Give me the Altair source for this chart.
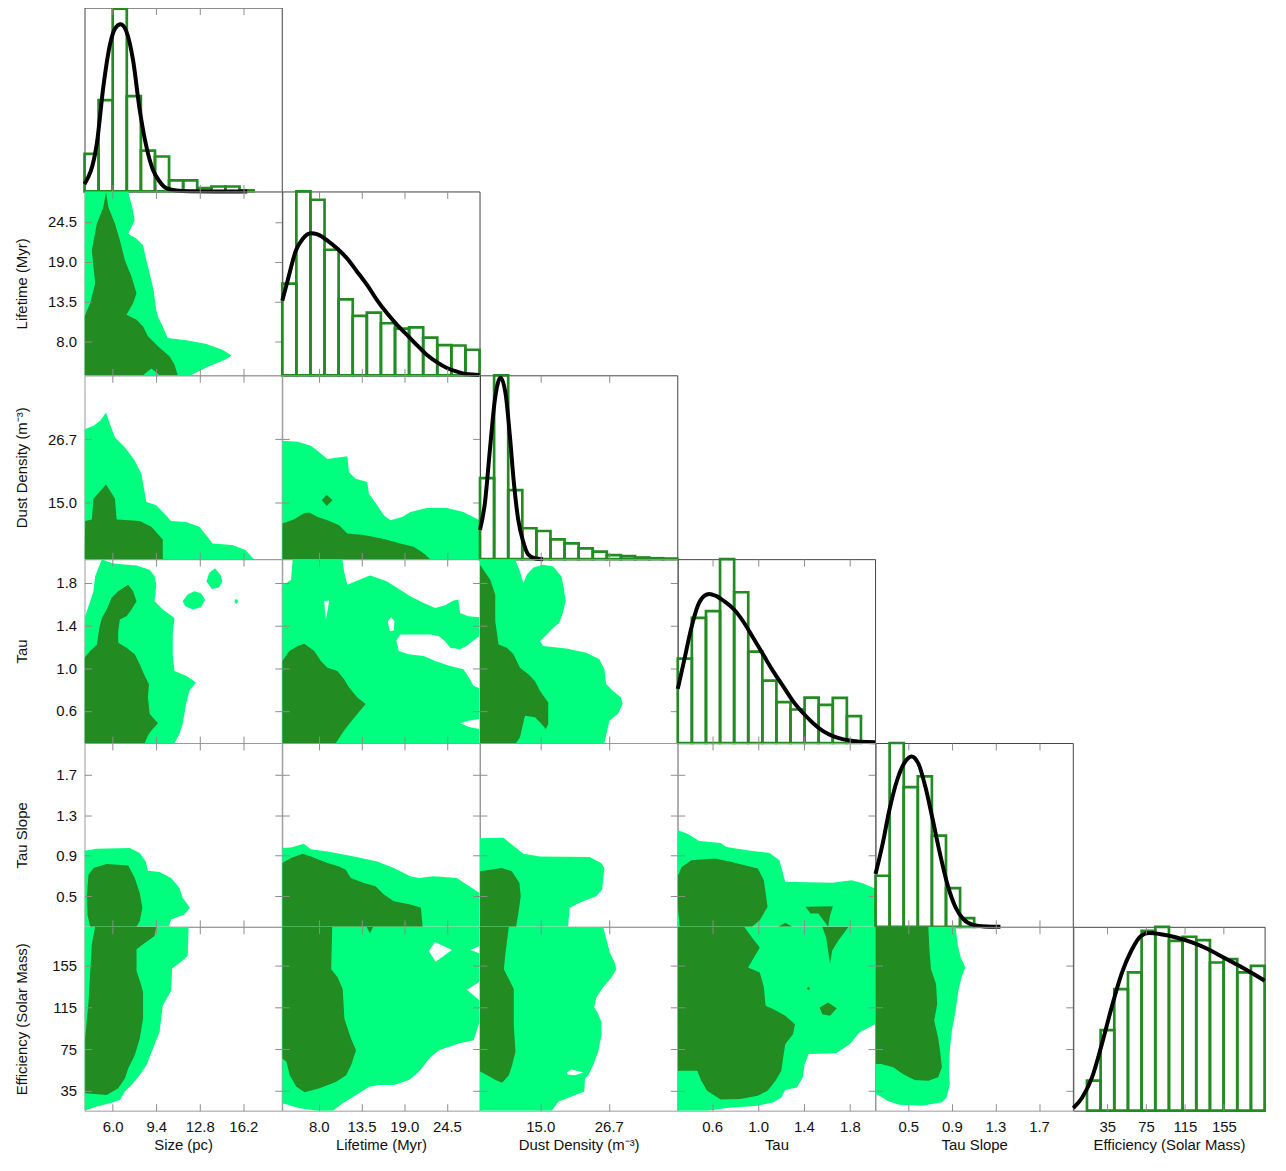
import altair as alt
import pandas as pd

# ---------------- variables / axes ----------------
NAMES = ["Size (pc)", "Lifetime (Myr)", "Dust Density (m⁻³)", "Tau", "Tau Slope",
         "Efficiency (Solar Mass)"]
X_DOMAINS = [[3.8, 19.2], [3.3, 28.7], [4.7, 38.4], [0.3, 2.02], [0.2, 2.01], [0.0, 197.0]]
Y_DOMAINS = [[3.8, 19.2], [3.3, 28.7], [4.7, 38.4], [0.3, 2.02], [0.2, 2.01], [16.0, 192.0]]
TICKS = [[6.0, 9.4, 12.8, 16.2], [8.0, 13.5, 19.0, 24.5], [15.0, 26.7],
         [0.6, 1.0, 1.4, 1.8], [0.5, 0.9, 1.3, 1.7], [35, 75, 115, 155]]
FORMATS = [".1f", ".1f", ".1f", ".1f", ".1f", "d"]

# ---------------- histograms (relative heights, 14 bins across each axis) ----------------
SIZE_HIST = [0.204, 0.497, 0.995, 0.519, 0.222, 0.190, 0.060, 0.060, 0.018, 0.027, 0.027, 0.006, 0, 0]
LIFETIME_HIST = [0.499, 1.0, 0.955, 0.683, 0.413, 0.323, 0.341, 0.283, 0.254, 0.261, 0.205, 0.164, 0.162, 0.139]
DUST_HIST = [0.441, 1.0, 0.375, 0.168, 0.153, 0.108, 0.086, 0.059, 0.041, 0.022, 0.016, 0.009, 0.005, 0.003]
TAU_HIST = [0.459, 0.681, 0.717, 1.0, 0.82, 0.497, 0.339, 0.222, 0.182, 0.247, 0.207, 0.245, 0.146, 0]
SLOPE_HIST = [0.278, 1.0, 0.76, 0.818, 0.496, 0.211, 0.047, 0.004, 0, 0, 0, 0, 0, 0]
EFF_HIST = [0, 0.163, 0.438, 0.661, 0.752, 0.978, 1.0, 0.924, 0.946, 0.928, 0.806, 0.824, 0.752, 0.788]

# ---------------- density curves ----------------
SIZE_KDE_X = [3.8, 4.76, 5.27, 5.79, 6.18, 6.62, 7.08, 7.59, 8.11, 8.63, 9.14, 9.66, 10.18, 10.95, 12.0, 14.0, 16.5]
SIZE_KDE_Y = [0.04, 0.26, 0.57, 0.80, 0.886, 0.909, 0.868, 0.714, 0.443, 0.244, 0.118, 0.054, 0.018, 0.005, 0.001, 0.0, 0.0]
LIFETIME_KDE_X = [3.3, 4.0, 5.07, 5.92, 7.0, 7.84, 9.12, 10.4, 11.68, 12.96, 14.24, 15.5, 16.8, 18.08,
                  19.36, 20.6, 21.9, 23.2, 24.5, 25.8, 27.0, 28.7]
LIFETIME_KDE_Y = [0.405, 0.517, 0.68, 0.742, 0.773, 0.766, 0.733, 0.688, 0.634, 0.562, 0.49, 0.409, 0.337,
                  0.274, 0.22, 0.166, 0.112, 0.072, 0.04, 0.02, 0.007, 0.002]
DUST_KDE_X = [4.7, 5.55, 6.4, 7.25, 8.21, 9.12, 9.8, 10.47, 11.2, 12.07, 12.9, 14.04, 15.46]
DUST_KDE_Y = [0.159, 0.31, 0.6, 0.87, 0.987, 0.887, 0.67, 0.42, 0.22, 0.096, 0.027, 0.005, 0.0]
TAU_KDE_X = [0.3, 0.358, 0.415, 0.473, 0.531, 0.575, 0.632, 0.705, 0.791, 0.878, 0.965, 1.051, 1.138,
             1.225, 1.311, 1.398, 1.485, 1.571, 1.658, 1.745, 1.831, 1.947, 2.02]
TAU_KDE_Y = [0.294, 0.456, 0.618, 0.744, 0.80, 0.811, 0.80, 0.771, 0.726, 0.654, 0.564, 0.474, 0.384,
             0.303, 0.222, 0.159, 0.105, 0.063, 0.036, 0.02, 0.011, 0.005, 0.004]
SLOPE_KDE_X = [0.2, 0.265, 0.326, 0.397, 0.469, 0.530, 0.594, 0.658, 0.72, 0.792, 0.863, 0.935, 1.006,
               1.095, 1.203, 1.346]
SLOPE_KDE_Y = [0.287, 0.451, 0.633, 0.796, 0.896, 0.927, 0.887, 0.76, 0.596, 0.396, 0.224, 0.105, 0.042,
               0.011, 0.002, 0.0]
EFF_KDE_X = [0, 9.2, 19.3, 29.4, 39.5, 49.6, 59.7, 69.8, 77.9, 90.1, 106.2, 122.3, 138.5, 154.7, 170.8, 186.9, 197]
EFF_KDE_Y = [0.014, 0.072, 0.181, 0.362, 0.562, 0.743, 0.87, 0.951, 0.966, 0.96, 0.942, 0.915, 0.879,
             0.833, 0.788, 0.739, 0.707]

# ---------------- contour outlines (data units: x var, y var) ----------------
# row 1: Size x Lifetime
P10_LIGHT = [[(3.8, 28.7), (7.21, 28.7), (7.59, 26.07), (7.72, 24.69), (7.21, 22.87), (7.86, 22.18), (8.37, 21.26),
              (8.63, 19.2), (8.89, 17.37), (9.19, 15.08), (9.40, 12.33), (9.53, 11.43), (9.91, 10.05), (10.3, 8.45),
              (11.73, 8.13), (13.27, 7.67), (14.56, 6.84), (15.29, 6.02), (14.82, 5.47), (13.53, 4.56),
              (12.76, 3.88), (12.11, 3.3), (3.8, 3.3)]]
P10_DARK = [[(5.48, 28.7), (5.66, 26.53), (6.18, 24.24), (6.56, 21.95), (6.95, 19.2), (7.47, 16.92), (7.86, 14.63),
             (7.59, 13.25), (7.08, 11.65), (7.86, 10.96), (8.37, 10.05), (8.75, 8.68), (9.53, 7.31), (10.43, 5.94),
             (10.82, 4.78), (11.08, 3.3), (9.66, 3.3), (9.02, 4.23), (8.37, 3.3), (3.8, 3.3), (3.8, 11.43),
             (4.24, 13.25), (4.63, 16.0), (4.37, 20.58), (4.76, 24.24), (5.27, 26.53)]]
# row 2: Size x Dust, Lifetime x Dust
P20_LIGHT = [[(3.8, 28.53), (4.5, 29.15), (5.02, 30.06), (5.48, 31.57), (5.79, 29.44), (6.18, 27.02), (6.95, 25.2),
              (7.72, 22.77), (8.24, 20.33), (8.63, 15.18), (9.40, 14.58), (10.05, 13.04), (10.56, 11.71),
              (11.73, 11.53), (12.76, 10.62), (13.4, 8.8), (13.79, 7.58), (15.33, 7.29), (16.37, 6.38),
              (17.01, 4.7), (3.8, 4.7)]]
P20_DARK = [[(3.8, 4.7), (3.85, 11.71), (4.37, 11.95), (4.5, 15.78), (5.48, 18.4), (6.18, 15.78), (6.31, 11.95),
             (8.11, 11.71), (9.02, 10.62), (9.91, 8.31), (9.91, 4.7)]]
P21_LIGHT = [[(3.3, 26.4), (5.28, 26.24), (6.99, 25.5), (8.06, 24.29), (9.12, 23.07), (11.68, 23.56), (11.9, 20.64),
              (12.75, 19.42), (14.24, 18.82), (14.46, 16.69), (15.52, 14.58), (16.38, 12.75), (17.23, 11.84),
              (18.72, 12.44), (19.79, 13.35), (21.92, 14.08), (24.48, 14.08), (26.62, 13.35), (27.9, 12.44),
              (28.7, 11.84), (28.7, 4.7), (3.3, 4.7)]]
P21_DARK = [[(8.4, 15.49), (9.03, 16.51), (9.76, 15.49), (9.03, 14.45)],
            [(3.3, 11.22), (4.86, 12.02), (6.14, 13.17), (6.78, 13.23), (7.84, 12.44), (9.12, 11.84), (10.62, 10.93),
             (11.68, 9.4), (13.82, 9.11), (16.38, 8.38), (18.5, 7.58), (20.22, 6.98), (21.5, 5.76), (22.35, 4.7),
             (3.3, 4.7)]]
# row 3: Size x Tau, Lifetime x Tau, Dust x Tau
P30_LIGHT = [[(5.15, 2.02), (5.53, 2.0), (6.04, 1.98), (7.86, 1.96), (8.89, 1.92), (9.27, 1.86), (9.40, 1.78),
              (9.27, 1.625), (9.91, 1.55), (10.82, 1.47), (10.69, 1.316), (10.69, 1.13), (10.82, 0.974),
              (11.73, 0.928), (12.5, 0.865), (11.98, 0.788), (11.73, 0.665), (11.46, 0.478), (11.21, 0.385),
              (10.82, 0.3), (3.8, 0.3), (3.8, 1.47), (4.11, 1.58), (4.5, 1.72), (4.63, 1.86), (5.02, 1.98)],
             [(11.46, 1.625), (11.85, 1.69), (12.37, 1.72), (12.89, 1.70), (13.22, 1.64), (12.89, 1.57),
              (12.24, 1.55), (11.67, 1.58)],
             [(13.32, 1.81), (13.53, 1.89), (13.99, 1.935), (14.43, 1.87), (14.56, 1.81), (14.3, 1.755),
              (13.74, 1.74)],
             [(15.49, 1.625), (15.64, 1.65), (15.8, 1.625), (15.64, 1.60)]]
P30_DARK = [[(3.8, 0.3), (3.8, 1.098), (4.24, 1.16), (4.76, 1.22), (4.96, 1.377), (5.15, 1.47), (5.53, 1.55),
             (5.92, 1.66), (6.43, 1.72), (7.21, 1.78), (7.59, 1.72), (7.86, 1.625), (7.47, 1.55), (7.08, 1.486),
             (6.56, 1.455), (6.43, 1.346), (6.43, 1.237), (7.08, 1.19), (7.72, 1.13), (8.11, 1.036), (8.5, 0.928),
             (8.83, 0.85), (8.75, 0.726), (8.89, 0.572), (9.53, 0.484), (9.02, 0.416), (8.75, 0.37), (8.5, 0.3)]]
P31_LIGHT = [[(3.3, 1.78), (3.79, 1.795), (4.43, 1.827), (4.64, 2.02), (11.04, 2.02), (11.26, 1.904), (11.68, 1.78),
              (14.24, 1.858), (14.67, 1.867), (16.8, 1.811), (19.79, 1.672), (21.5, 1.609), (22.99, 1.563),
              (24.27, 1.588), (25.34, 1.632), (25.98, 1.641), (26.19, 1.516), (27.26, 1.486), (28.7, 1.476),
              (28.7, 1.3), (27.9, 1.26), (27.04, 1.207), (26.19, 1.176), (24.91, 1.191), (24.27, 1.253),
              (23.42, 1.3), (22.35, 1.316), (18.5, 1.316), (17.99, 1.26), (18.3, 1.16), (19.58, 1.13),
              (21.5, 1.114), (22.99, 1.067), (24.91, 1.021), (26.62, 0.99), (27.47, 0.897), (27.9, 0.835),
              (28.7, 0.813), (28.7, 0.525), (27.26, 0.509), (26.19, 0.484), (27.47, 0.447), (28.7, 0.432),
              (28.7, 0.3), (3.3, 0.3)]]
P31_HOLES = [[(8.7, 1.625), (9.34, 1.632), (9.12, 1.532), (8.91, 1.455)],
             [(16.89, 1.439), (17.32, 1.476), (17.74, 1.439), (17.66, 1.353), (17.15, 1.346)]]
P31_DARK = [[(3.3, 0.3), (3.3, 1.067), (4.22, 1.16), (5.28, 1.207), (6.14, 1.228), (7.42, 1.16), (8.27, 1.067),
             (9.12, 1.005), (10.4, 0.974), (11.26, 0.897), (11.9, 0.819), (12.96, 0.726), (14.03, 0.665),
             (12.96, 0.572), (11.9, 0.478), (11.26, 0.416), (10.19, 0.3)]]
P32_LIGHT = [[(4.7, 2.02), (10.69, 2.02), (11.53, 1.904), (12.11, 1.795), (12.67, 1.873), (13.81, 1.941),
              (15.5, 1.967), (17.2, 1.951), (18.61, 1.858), (19.0, 1.749), (19.34, 1.625), (18.78, 1.502),
              (18.22, 1.423), (17.2, 1.377), (16.35, 1.33), (14.93, 1.253), (15.5, 1.207), (19.46, 1.185),
              (22.85, 1.144), (25.1, 1.083), (25.95, 0.99), (26.24, 0.851), (27.38, 0.788), (28.78, 0.726),
              (29.07, 0.665), (28.22, 0.572), (26.8, 0.509), (25.95, 0.3), (4.7, 0.3)]]
P32_DARK = [[(4.7, 1.967), (6.45, 1.827), (7.3, 1.688), (7.3, 1.439), (7.87, 1.222), (9.28, 1.191), (10.41, 1.13),
             (11.53, 1.005), (12.96, 0.944), (14.08, 0.881), (14.93, 0.788), (16.35, 0.679), (16.35, 0.478),
             (15.94, 0.432), (15.22, 0.478), (14.08, 0.54), (12.38, 0.556), (11.99, 0.463), (11.53, 0.354),
             (10.86, 0.3), (4.7, 0.3)]]
# row 4: ... x Tau Slope
P40_LIGHT = [[(3.8, 0.948), (4.76, 0.968), (7.34, 0.975), (8.11, 0.926), (8.58, 0.843), (8.75, 0.753), (9.66, 0.74),
              (10.56, 0.681), (11.21, 0.583), (11.46, 0.486), (12.03, 0.388), (11.59, 0.322), (10.56, 0.273),
              (10.43, 0.224), (10.43, 0.2), (3.8, 0.2)]]
P40_DARK = [[(4.11, 0.713), (4.5, 0.779), (5.53, 0.818), (7.21, 0.804), (7.72, 0.681), (8.11, 0.534), (8.32, 0.388),
             (8.11, 0.257), (7.86, 0.2), (4.24, 0.2), (4.03, 0.322), (3.99, 0.518)]]
P41_LIGHT = [[(3.3, 0.975), (4.43, 0.98), (6.05, 1.017), (6.99, 0.965), (9.12, 0.941), (12.54, 0.893),
              (15.52, 0.844), (17.66, 0.779), (19.79, 0.697), (20.86, 0.681), (22.78, 0.697), (25.76, 0.681),
              (27.04, 0.616), (28.7, 0.534), (28.7, 0.2), (3.3, 0.2)]]
P41_DARK = [[(3.3, 0.828), (4.43, 0.877), (5.92, 0.919), (6.99, 0.893), (9.12, 0.828), (10.62, 0.795),
             (11.47, 0.762), (12.11, 0.681), (13.82, 0.632), (15.31, 0.599), (16.38, 0.518), (17.66, 0.452),
             (19.79, 0.42), (21.16, 0.388), (21.37, 0.2), (3.3, 0.2)]]
P42_LIGHT = [[(4.7, 1.072), (8.72, 1.078), (9.84, 1.023), (12.11, 0.919), (14.93, 0.893), (23.41, 0.887),
              (25.39, 0.828), (25.95, 0.779), (25.56, 0.567), (24.54, 0.501), (22.29, 0.452), (20.02, 0.388),
              (19.74, 0.2), (4.7, 0.2)]]
P42_DARK = [[(4.7, 0.746), (6.45, 0.762), (8.43, 0.779), (10.13, 0.746), (11.43, 0.632), (11.65, 0.501),
             (11.26, 0.339), (10.86, 0.2), (4.7, 0.2)]]
P43_LIGHT = [[(0.3, 1.151), (0.385, 1.117), (0.487, 1.046), (0.674, 1.026), (0.725, 0.987), (0.947, 0.947),
              (1.1, 0.928), (1.186, 0.855), (1.237, 0.643), (1.646, 0.633), (1.816, 0.659), (1.918, 0.626),
              (2.02, 0.578), (2.02, 0.2), (0.3, 0.2)]]
P43_DARK = [[(0.334, 0.79), (0.419, 0.855), (0.623, 0.872), (0.76, 0.84), (0.998, 0.774), (1.05, 0.659),
             (1.083, 0.397), (1.015, 0.265), (0.947, 0.2), (0.317, 0.2), (0.3, 0.4), (0.3, 0.7)],
            [(1.413, 0.397), (1.653, 0.403), (1.628, 0.314), (1.611, 0.2), (1.57, 0.265), (1.526, 0.331),
             (1.458, 0.331)],
            [(1.179, 0.2), (1.237, 0.239), (1.298, 0.2)]]
# row 5: ... x Efficiency
P50_LIGHT = [[(3.8, 192), (11.93, 192), (11.85, 164.2), (11.42, 159.4), (10.64, 152.2), (10.56, 130.9),
              (9.91, 116.6), (9.66, 91.3), (9.14, 75.4), (8.63, 59.6), (8.11, 50), (7.47, 40.5), (6.95, 34.3),
              (6.56, 26.3), (5.79, 23.1), (4.76, 20), (3.8, 16)]]
P50_DARK = [[(4.63, 192), (9.40, 192), (9.27, 183.2), (8.37, 175.3), (7.86, 170.5), (7.86, 149.9), (8.24, 135.6),
             (8.37, 129.4), (8.37, 104), (8.11, 84.9), (7.72, 69.1), (7.21, 56.4), (6.95, 46.9), (6.43, 37.4),
             (5.53, 31), (3.85, 32.6), (3.85, 84.9), (4.11, 119.9), (4.37, 175.3)]]
P51_LIGHT = [[(3.3, 192), (28.7, 192), (28.7, 173.7), (27.52, 169.9), (28.7, 166.7), (28.7, 139.5), (27.08, 131.8),
              (28.7, 121.4), (28.7, 100.8), (27.94, 83.3), (26.02, 80.2), (23.46, 73.8), (22.4, 67.5),
              (20.9, 53.3), (19.62, 45.3), (17.7, 40.5), (15.78, 40.5), (14.5, 39), (12.8, 31), (11.08, 23.1),
              (9.8, 16), (7.88, 16), (5.54, 18.4), (3.3, 23.1)]]
P51_HOLES = [[(22.18, 168.9), (22.95, 177.5), (25.16, 169.9), (23.04, 158.5)]]
P51_DARK = [[(3.3, 192), (9.73, 192), (9.6, 151.5), (10.44, 143.6), (11.08, 132.5), (11.3, 104), (12.16, 84.9),
             (12.8, 73.8), (12.16, 59.6), (11.52, 50), (10.24, 43.8), (8.1, 37.4), (6.18, 33.6), (5.12, 39),
             (4.26, 50), (3.84, 62.8), (3.3, 65.9)],
            [(14.15, 192), (14.59, 185.8), (15.01, 192)]]
P52_LIGHT = [[(4.7, 192), (25.73, 192), (26.29, 180), (26.87, 167.4), (27.71, 157.9), (27.99, 151.5), (27.14, 143.6),
              (25.73, 134.1), (24.6, 124.6), (24.2, 115.1), (24.88, 108.7), (25.44, 100.8), (25.44, 88.1),
              (24.88, 72.3), (24.03, 59.6), (23.19, 50), (22.63, 46.9), (22.51, 34.3), (20.35, 29.5),
              (18.1, 24.7), (16.96, 16), (4.7, 16)]]
P52_HOLES = [[(19.51, 52.6), (20.35, 55.5), (22.34, 52.6), (20.93, 50), (19.68, 50.7)]]
P52_DARK = [[(4.7, 192), (9.62, 192), (9.06, 167.4), (8.77, 151.5), (9.62, 142), (10.47, 132.5), (10.47, 97.6),
             (10.75, 72.3), (10.18, 59.6), (9.62, 50), (8.48, 42.8), (7.36, 45.3), (5.94, 50), (4.81, 53.3),
             (4.7, 53.3)]]
P53_LIGHT = [[(0.3, 192), (2.02, 192), (2.02, 98.8), (1.884, 90.9), (1.799, 79.7), (1.68, 70.9), (1.441, 70.2),
              (1.407, 60.6), (1.39, 47.9), (1.339, 38.3), (1.237, 35.8), (1.203, 28.7), (1.134, 24),
              (0.998, 20.8), (0.725, 18.6), (0.556, 16), (0.3, 16)]]
P53_DARK = [[(0.3, 192), (0.879, 192), (0.947, 181.8), (1.015, 172.2), (0.913, 153), (1.015, 148.3), (1.05, 134.6),
             (1.066, 116.4), (1.134, 113.2), (1.237, 106.8), (1.322, 98.8), (1.305, 89.3), (1.237, 79.7),
             (1.219, 67), (1.203, 54.2), (1.152, 44.7), (1.083, 35.1), (0.998, 30.4), (0.845, 27.1),
             (0.674, 26.6), (0.556, 35.1), (0.505, 44.7), (0.47, 54.2), (0.3, 54.2)],
            [(1.56, 192), (1.789, 192), (1.697, 178.5), (1.646, 169), (1.628, 156.3), (1.611, 169), (1.594, 181.8)],
            [(1.536, 114.8), (1.611, 119.6), (1.686, 114.1), (1.628, 106.8), (1.56, 108.4)],
            [(1.424, 133), (1.441, 134.6), (1.455, 133), (1.441, 131.4)]]
P54_LIGHT = [[(0.2, 192), (0.935, 192), (0.953, 175.4), (0.982, 162.7), (1.024, 153), (0.989, 143.5), (0.96, 130.8),
              (0.935, 111.6), (0.9, 92.5), (0.881, 73.3), (0.874, 54.2), (0.881, 41.5), (0.852, 28.7),
              (0.809, 24), (0.63, 20.8), (0.415, 21.7), (0.308, 25.6), (0.236, 30.4), (0.2, 32)]]
P54_DARK = [[(0.2, 192), (0.684, 192), (0.695, 169), (0.709, 151.5), (0.755, 137.2), (0.766, 118), (0.738, 102.1),
             (0.774, 86.1), (0.792, 73.3), (0.809, 57.5), (0.774, 47.9), (0.684, 44.7), (0.558, 45.3),
             (0.451, 51.1), (0.362, 57.5), (0.254, 60.6), (0.2, 60.6)]]

HISTS = [SIZE_HIST, LIFETIME_HIST, DUST_HIST, TAU_HIST, SLOPE_HIST, EFF_HIST]
KDES = [(SIZE_KDE_X, SIZE_KDE_Y), (LIFETIME_KDE_X, LIFETIME_KDE_Y), (DUST_KDE_X, DUST_KDE_Y),
        (TAU_KDE_X, TAU_KDE_Y), (SLOPE_KDE_X, SLOPE_KDE_Y), (EFF_KDE_X, EFF_KDE_Y)]
CONTOURS = {
    (1, 0): (P10_LIGHT, [], P10_DARK),
    (2, 0): (P20_LIGHT, [], P20_DARK), (2, 1): (P21_LIGHT, [], P21_DARK),
    (3, 0): (P30_LIGHT, [], P30_DARK), (3, 1): (P31_LIGHT, P31_HOLES, P31_DARK), (3, 2): (P32_LIGHT, [], P32_DARK),
    (4, 0): (P40_LIGHT, [], P40_DARK), (4, 1): (P41_LIGHT, [], P41_DARK), (4, 2): (P42_LIGHT, [], P42_DARK),
    (4, 3): (P43_LIGHT, [], P43_DARK),
    (5, 0): (P50_LIGHT, [], P50_DARK), (5, 1): (P51_LIGHT, P51_HOLES, P51_DARK),
    (5, 2): (P52_LIGHT, P52_HOLES, P52_DARK), (5, 3): (P53_LIGHT, [], P53_DARK), (5, 4): (P54_LIGHT, [], P54_DARK),
}

# ---------------- style ----------------
FONT = "Liberation Sans"
LIGHT_C = "#00ff7f"
DARK_C = "#228b22"
HIST_C = "#228b22"
TICK_C = "#8c8c8c"
FRAME_CONTOUR = "#9a9a9a"
FRAME_HIST = "#444444"
TL = 7
PANEL_W = [198.5, 198.5, 198.5, 198.5, 198.5, 192.5]
PANEL_H = 185
LEFT_EXT = 46
LEFT_TITLE_PAD = 16


def x_axis(v, orient, labeled):
    if labeled:
        return alt.Axis(orient=orient, values=TICKS[v], format=FORMATS[v], title=NAMES[v], offset=-TL,
                        tickSize=TL, labelPadding=9, titlePadding=3, zindex=1)
    return alt.Axis(orient=orient, values=TICKS[v], labels=False, title=None, offset=-TL, tickSize=TL,
                    minExtent=0, maxExtent=TL, zindex=1)


def y_axis(v, orient, labeled):
    if labeled:
        return alt.Axis(orient=orient, values=TICKS[v], format=FORMATS[v], title=NAMES[v], offset=-TL,
                        tickSize=TL, labelPadding=8, minExtent=LEFT_EXT, maxExtent=LEFT_EXT,
                        titlePadding=LEFT_TITLE_PAD, zindex=1)
    return alt.Axis(orient=orient, values=TICKS[v], labels=False, title=None, offset=-TL, tickSize=TL,
                    minExtent=0, maxExtent=TL, zindex=1)


def xs(v, axis, field="x"):
    return alt.X(f"{field}:Q", scale=alt.Scale(domain=X_DOMAINS[v], nice=False, zero=False), axis=axis)


def ys(v, axis, field="y"):
    return alt.Y(f"{field}:Q", scale=alt.Scale(domain=Y_DOMAINS[v], nice=False, zero=False), axis=axis)


def poly_df(polys):
    rows = []
    for pid, poly in enumerate(polys):
        for k, (x, y) in enumerate(poly):
            rows.append({"pid": pid, "k": k, "x": x, "y": y})
    return pd.DataFrame(rows)


def fill_layer(polys, color, xenc, yenc):
    return alt.Chart(poly_df(polys)).mark_line(filled=True, color=color, clip=True).encode(
        x=xenc, y=yenc, detail="pid:N", order="k:Q")


def contour_panel(r, c):
    light, holes, dark = CONTOURS[(r, c)]
    layers = [fill_layer(light, LIGHT_C, xs(c, x_axis(c, "bottom", r == 5)), ys(r, y_axis(r, "left", c == 0)))]
    if holes:
        layers.append(fill_layer(holes, "white", xs(c, None), ys(r, None)))
    layers.append(fill_layer(dark, DARK_C, xs(c, x_axis(c, "top", False)), ys(r, y_axis(r, "right", False))))
    return alt.layer(*layers).resolve_axis(x="independent", y="independent").properties(
        width=PANEL_W[c], height=PANEL_H, view=alt.ViewBackground(stroke=FRAME_CONTOUR, strokeWidth=1))


def hist_panel(v):
    lo, hi = X_DOMAINS[v]
    n = len(HISTS[v])
    step = (hi - lo) / n
    df = pd.DataFrame({"x0": [lo + i * step for i in range(n)],
                       "x1": [lo + (i + 1) * step for i in range(n)],
                       "h": HISTS[v], "base": [0.0] * n})
    df = df[df.h > 0]
    yscale = alt.Scale(domain=[0, 1], nice=False, zero=True)
    bars = alt.Chart(df).mark_rect(filled=False, color=HIST_C, strokeWidth=2.7).encode(
        x=xs(v, x_axis(v, "bottom", v == 5), "x0"), x2="x1:Q",
        y=alt.Y("h:Q", scale=yscale, axis=None), y2="base:Q")
    kx, ky = KDES[v]
    kde = alt.Chart(pd.DataFrame({"x": kx, "y": ky})).mark_line(
        color="black", strokeWidth=4, interpolate="monotone").encode(
        x=xs(v, x_axis(v, "top", False)), y=alt.Y("y:Q", scale=yscale, axis=None))
    return alt.layer(bars, kde).resolve_axis(x="independent", y="independent").properties(
        width=PANEL_W[v], height=PANEL_H, view=alt.ViewBackground(stroke=FRAME_HIST, strokeWidth=1))


def empty_panel(c):
    return alt.Chart(pd.DataFrame({"e": [0.0]})).mark_point(opacity=0, size=1).encode(
        x=alt.X("e:Q", axis=None, scale=alt.Scale(domain=[-1, 1])),
        y=alt.Y("e:Q", axis=None, scale=alt.Scale(domain=[-1, 1]))).properties(
        width=PANEL_W[c], height=PANEL_H, view=alt.ViewBackground(strokeOpacity=0))


cells = []
for r in range(6):
    for c in range(6):
        if c < r:
            cells.append(contour_panel(r, c))
        elif c == r:
            cells.append(hist_panel(r))
        else:
            cells.append(empty_panel(c))

chart = alt.concat(*cells, columns=6, spacing=0, bounds="flush").properties(
    padding={"left": 6, "top": -5, "right": 5, "bottom": 0}
).configure_axis(
    labelFont=FONT, titleFont=FONT, labelFontSize=15, titleFontSize=15, titleFontWeight="normal",
    labelColor="#111111", titleColor="#111111", tickColor=TICK_C, tickWidth=1, domain=False, grid=False
).configure_view(stroke=None)

chart.save("out.html", embed_options={"renderer": "svg", "actions": False})
